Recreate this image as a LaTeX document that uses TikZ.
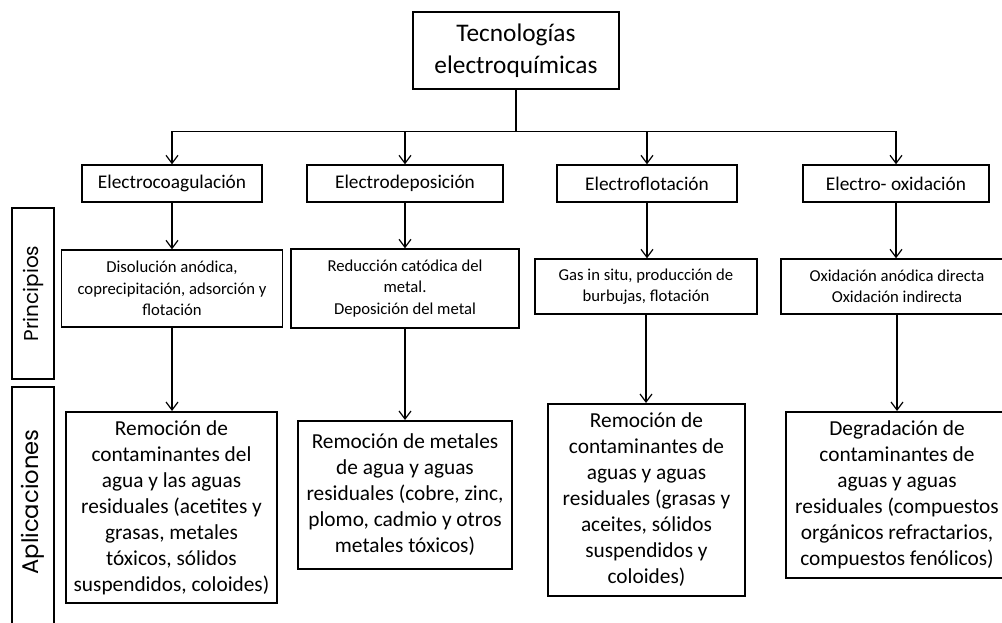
\documentclass[tikz,border=0pt]{standalone}
\usepackage{fontspec}
\setmainfont{Carlito}
\newfontfamily\sidefont{Poppins}
\usetikzlibrary{arrows.meta}

\begin{document}
\begin{tikzpicture}[x=0.75pt,y=0.75pt,yscale=-1,xscale=1,
  box/.style 2 args={draw, line width=1.1pt, inner sep=0pt, align=center,
    minimum width=#1*0.75pt, minimum height=#2*0.75pt},
  techbox/.style 2 args={box={#1}{#2}, font=\fontsize{14.5}{17}\selectfont},
  appbox/.style 2 args={box={#1}{#2}, line width=1.5pt,
    font=\fontsize{16}{19.5}\selectfont},
  prinbox/.style 2 args={box={#1}{#2}, font=\fontsize{12.5}{16}\selectfont},
  sidelbl/.style={rotate=90, font=\sidefont\fontsize{15}{18}\selectfont},
  arr/.style={line width=0.9pt, -{Straight Barb[length=6pt, width=9pt, line width=0.9pt]}}]
\useasboundingbox (0,0) rectangle (1002,623);
\clip (0,0) rectangle (1002,623);

%Shape: Rectangle [top]
\node [box={206}{77}, line width=1.5pt, font=\fontsize{19}{24}\selectfont] (tec) at (516,50.5) {Tecnologías\\electroquímicas};
\coordinate (bus) at (516,131.5);

% Text Node
\node [techbox={180}{37}] (coag) at (172,183.5) {Electrocoagulación};
% Text Node
\node [techbox={196}{37}] (dep) at (405,183.5) {Electrodeposición};
% Text Node
\node [techbox={180}{37}] (flot) at (647,183.5) {Electroflotación};
% Text Node
\node [techbox={186}{37}] (oxi) at (896,183.5) {Electro- oxidación};

%Principios
\node [prinbox={221}{77}] (pcoag) at (172,288.5) {Disolución anódica,\\coprecipitación, adsorción y\\flotación};
\node [prinbox={228}{79}] (pdep) at (405,288.5) {Reducción catódica del\\metal.\\Deposición del metal};
\node [prinbox={222}{55}] (pflot) at (646,286.5) {Gas in situ, producción de\\burbujas, flotación};
\node [prinbox={232}{55}] (poxi) at (897,286.5) {Oxidación anódica directa\\Oxidación indirecta};

%Aplicaciones
\node [appbox={211}{191}] (acoag) at (171.5,507.5) {Remoción de\\contaminantes del\\agua y las aguas\\residuales (acetites y\\grasas, metales\\tóxicos, sólidos\\suspendidos, coloides)};
\node [appbox={214}{148}] (adep) at (405,495) {Remoción de metales\\de agua y aguas\\residuales (cobre, zinc,\\plomo, cadmio y otros\\metales tóxicos)};
\node [appbox={197}{192}] (aflot) at (646.5,500) {Remoción de\\contaminantes de\\aguas y aguas\\residuales (grasas y\\aceites, sólidos\\suspendidos y\\coloides)};
\node [appbox={222}{166}] (aoxi) at (897,495) {Degradación de\\contaminantes de\\aguas y aguas\\residuales (compuestos\\orgánicos refractarios,\\compuestos fenólicos)};

%Side labels
\node [box={42}{171}, line width=1.5pt] (prin) at (33,293.5) {};
\node [sidelbl] (prinlbl) at (prin) {Principios};
\draw [line width=1.5pt] (12,387) rectangle (54,650);
\node [sidelbl, font=\sidefont\fontsize{17}{20}\selectfont] (apllbl) at (33,502) {Aplicaciones};

%Connectors
\draw [line width=0.9pt] (tec.south) -- (bus);
\draw [line width=1.1pt] (coag.north |- bus) -- (oxi.north |- bus);
\draw [arr] (coag.north |- bus) -- (coag.north);
\draw [arr] (dep.north |- bus) -- (dep.north);
\draw [arr] (flot.north |- bus) -- (flot.north);
\draw [arr] (oxi.north |- bus) -- (oxi.north);

\draw [arr] (coag.south) -- (coag.south |- pcoag.north);
\draw [arr] (dep.south) -- (dep.south |- pdep.north);
\draw [arr] (flot.south) -- (flot.south |- pflot.north);
\draw [arr] (oxi.south) -- (oxi.south |- poxi.north);

\draw [arr] (pcoag.south) -- (pcoag.south |- acoag.north);
\draw [arr] (pdep.south) -- (pdep.south |- adep.north);
\draw [arr] (pflot.south) -- (pflot.south |- aflot.north);
\draw [arr] (poxi.south) -- (poxi.south |- aoxi.north);

\end{tikzpicture}
\end{document}
